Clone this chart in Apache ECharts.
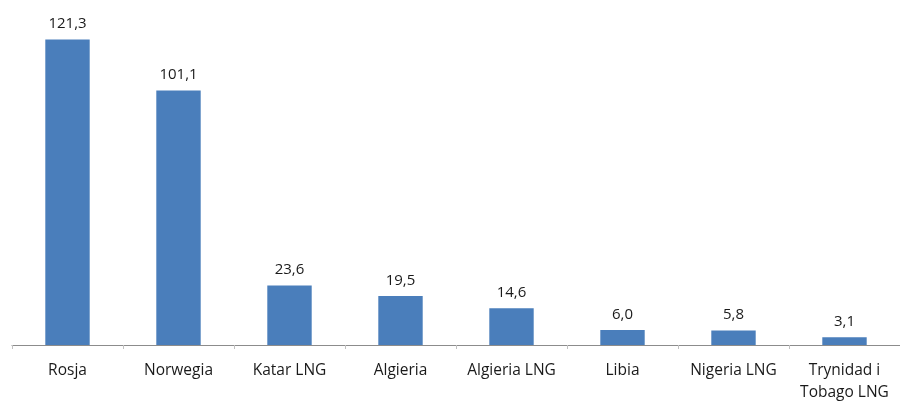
<!DOCTYPE html>
<html>
<head>
<meta charset="utf-8">
<script src="https://cdn.jsdelivr.net/npm/echarts@6/dist/echarts.min.js"></script>
<style>
  html,body{margin:0;padding:0;background:#fff;}
  #chart{width:900px;height:404px;}
</style>
</head>
<body>
<div id="chart"></div>
<script>
// kraje dostawców
const categories = ["Rosja", "Norwegia", "Katar LNG", "Algieria", "Algieria LNG", "Libia", "Nigeria LNG", "Trynidad i\nTobago LNG"];
const values = [121.3, 101.1, 23.6, 19.5, 14.6, 6.0, 5.8, 3.1];

const chart = echarts.init(document.getElementById("chart"));

chart.setOption({
	animation: false,
	grid: {left: 12, right: 0, top: 0, bottom: 53, containLabel: false},
	xAxis: {
		type: "category",
		data: categories,
		axisLine: {lineStyle: {color: "#8c8c8c", width: 1}},
		axisTick: {show: true, length: 4, lineStyle: {color: "#c0c0c0"}},
		axisLabel: {
			color: "#1a1a1a",
			fontSize: 15.5,
			fontFamily: "Open Sans",
			margin: 15,
			lineHeight: 22,
			interval: 0
		}
	},
	yAxis: {
		type: "value",
		min: 0,
		max: 137,
		show: false,
		splitLine: {show: false}
	},
	series: [{
		type: "bar",
		data: values,
		barWidth: "40%",
		itemStyle: {color: "#4a7ebb"},
		label: {
			show: true,
			position: "top",
			distance: 8,
			color: "#1a1a1a",
			fontSize: 15,
			fontFamily: "Open Sans",
			formatter: p => p.value.toFixed(1).replace(".", ",")
		}
	}]
});
</script>
</body>
</html>
